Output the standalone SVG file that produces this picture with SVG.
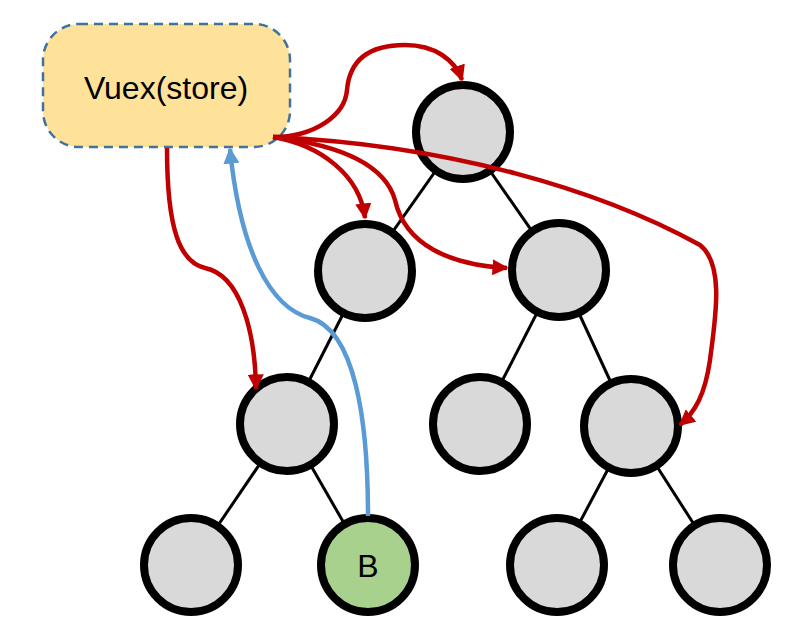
<svg xmlns="http://www.w3.org/2000/svg" width="794" height="628" viewBox="0 0 794 628">
<style>
.edge{stroke:#000;stroke-width:3;fill:none}
.node circle{fill:#D9D9D9;stroke:#000;stroke-width:8}
.red{stroke:#C00000;stroke-width:4.5;fill:none;marker-end:url(#ar)}
.blue{stroke:#5B9BD5;stroke-width:4.5;fill:none;marker-end:url(#ab)}
text{font-family:"Liberation Sans",Arial,sans-serif;fill:#000}
</style>
<defs>
<marker id="ar" viewBox="0 0 10 10" refX="9" refY="5" markerWidth="3.6" markerHeight="3.6" orient="auto"><path d="M0,0 L10,5 L0,10 z" fill="#C00000"/></marker>
<marker id="ab" viewBox="0 0 10 10" refX="9" refY="5" markerWidth="3.6" markerHeight="3.6" orient="auto"><path d="M0,0 L10,5 L0,10 z" fill="#5B9BD5"/></marker>
</defs>
<rect width="794" height="628" fill="#fff"/>
<g id="tree-edges">
<line class="edge" x1="463" y1="132" x2="365" y2="271"/>
<line class="edge" x1="463" y1="132" x2="559" y2="270"/>
<line class="edge" x1="365" y1="271" x2="287" y2="424"/>
<line class="edge" x1="559" y1="270" x2="480" y2="424"/>
<line class="edge" x1="559" y1="270" x2="631" y2="426"/>
<line class="edge" x1="287" y1="424" x2="191" y2="565"/>
<line class="edge" x1="287" y1="424" x2="368" y2="565"/>
<line class="edge" x1="631" y1="426" x2="557" y2="565"/>
<line class="edge" x1="631" y1="426" x2="720" y2="565"/>
</g>
<g id="store">
<rect x="43" y="24" width="247" height="123" rx="36" ry="36" fill="#FFE299" stroke="#41719C" stroke-width="2.5" stroke-dasharray="9,6"/>
<text x="166" y="99" font-size="32" text-anchor="middle">Vuex(store)</text>
</g>
<g id="n1" class="node"><circle cx="463" cy="132" r="47"/></g>
<g id="n2" class="node"><circle cx="365" cy="271" r="47"/></g>
<g id="n3" class="node"><circle cx="559" cy="270" r="47"/></g>
<g id="n4" class="node"><circle cx="287" cy="424" r="47"/></g>
<g id="n5" class="node"><circle cx="480" cy="424" r="47"/></g>
<g id="n6" class="node"><circle cx="631" cy="426" r="47"/></g>
<g id="n7" class="node"><circle cx="191" cy="565" r="47"/></g>
<g id="nB" class="node"><circle cx="368" cy="565" r="47" style="fill:#A9D18E"/><text x="368" y="577" font-size="32" text-anchor="middle">B</text></g>
<g id="n9" class="node"><circle cx="557" cy="565" r="47"/></g>
<g id="n10" class="node"><circle cx="720" cy="565" r="47"/></g>
<g id="connectors">
<path class="red" d="M273,137 C315,137 345,115 347,90 C350,55 375,45 405,45 C435,45 455,60 462,80"/>
<path class="red" d="M273,137 C320,145 360,175 365,218"/>
<path class="red" d="M273,137 C340,145 385,165 395,200 C405,245 450,265 507,268"/>
<path class="red" d="M273,137 C450,145 600,190 700,245 C725,265 715,320 710,360 C705,395 695,412 680,425"/>
<path class="red" d="M167,148 C167,230 180,262 205,268 C240,275 255,330 256,389"/>
<path class="blue" d="M368,516 C368,420 355,330 310,318 C270,308 240,250 230,149"/>
</g>
</svg>
